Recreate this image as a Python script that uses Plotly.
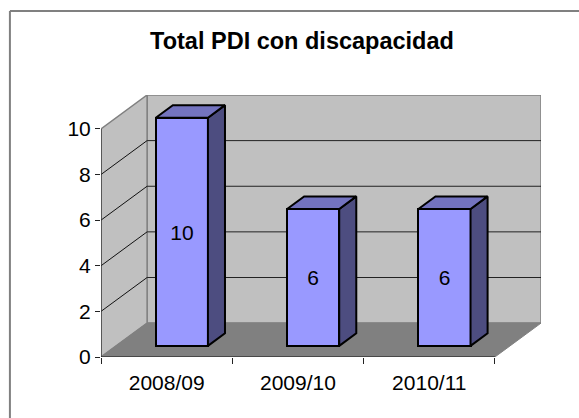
import plotly.graph_objects as go

categories = ["2008/09", "2009/10", "2010/11"]
values = [10, 6, 6]
y_ticks = [0, 2, 4, 6, 8, 10]
title_text = "Total PDI con discapacidad"

W, H = 579, 418
ML, MR, MT, MB = 101, 38.4, 95, 61
DEPTH_X, DEPTH_Y = 0.351, 1.485   # oblique offset of full chart depth, in data units
BAR_FRONT, BAR_DEPTH, BAR_WIDTH = 0.33, 0.37, 0.397
n = len(categories)
ymax = max(y_ticks)
FONT = "Liberation Sans, Arial, sans-serif"
PW, PH = W - ML - MR, H - MT - MB


def proj(x, y, d):
    return x + d * DEPTH_X, y + d * DEPTH_Y


def poly(pts, fill, line, width, layer="below"):
    path = "M " + " L ".join(f"{x},{y}" for x, y in pts) + " Z"
    return dict(type="path", path=path, xref="x", yref="y", fillcolor=fill,
                line=dict(color=line, width=width), layer=layer)


def seg(p, q, color, width):
    return dict(type="line", xref="x", yref="y", x0=p[0], y0=p[1], x1=q[0], y1=q[1],
                line=dict(color=color, width=width), layer="below")


def frame(x0, y0, x1, y1):
    return dict(type="line", xref="paper", yref="paper",
                x0=(x0 - ML) / PW, x1=(x1 - ML) / PW,
                y0=(H - MB - y0) / PH, y1=(H - MB - y1) / PH,
                line=dict(color="#808080", width=2), layer="below")


shapes = [
    frame(10, 11, W + 2, 11),
    frame(10, 11, 10, H + 2),
    # back wall
    poly([proj(0, 0, 1), proj(n, 0, 1), proj(n, ymax, 1), proj(0, ymax, 1)], "#C0C0C0", "#808080", 1.5),
    # side wall
    poly([proj(0, 0, 0), proj(0, 0, 1), proj(0, ymax, 1), proj(0, ymax, 0)], "#C0C0C0", "#808080", 1.5),
    # floor
    poly([proj(0, 0, 0), proj(n, 0, 0), proj(n, 0, 1), proj(0, 0, 1)], "#808080", "#808080", 1),
]
for t in y_ticks[1:-1]:
    shapes.append(seg(proj(0, t, 0), proj(0, t, 1), "#111111", 1))
    shapes.append(seg(proj(0, t, 1), proj(n, t, 1), "#222222", 1))
shapes.append(seg(proj(0, 0, 0), proj(0, ymax, 0), "#333333", 1.2))
shapes.append(seg(proj(0, 0, 0), proj(n, 0, 0), "#111111", 1.2))

fig = go.Figure()

d0, d1 = BAR_FRONT, BAR_FRONT + BAR_DEPTH
centers = [proj(i + 0.5, 0, d0)[0] for i in range(n)]
base = proj(0, 0, d0)[1]
fig.add_trace(go.Bar(
    x=centers, y=values, base=[base] * n, width=[BAR_WIDTH] * n,
    marker=dict(color="#9999FF", line=dict(color="black", width=2)),
    text=[str(v) for v in values], textposition="inside", insidetextanchor="middle",
    textangle=0, textfont=dict(family=FONT, size=21, color="black"),
    constraintext="none", showlegend=False, hoverinfo="skip",
))

for i, v in enumerate(values):
    xl = i + 0.5 - BAR_WIDTH / 2
    xr = i + 0.5 + BAR_WIDTH / 2
    side = [proj(xr, 0, d0), proj(xr, 0, d1), proj(xr, v, d1), proj(xr, v, d0), proj(xr, 0, d0)]
    top = [proj(xl, v, d0), proj(xr, v, d0), proj(xr, v, d1), proj(xl, v, d1), proj(xl, v, d0)]
    for pts, col in ((side, "#4D4D80"), (top, "#7373BF")):
        fig.add_trace(go.Scatter(
            x=[p[0] for p in pts], y=[p[1] for p in pts], mode="lines", fill="toself",
            fillcolor=col, line=dict(color="black", width=2), showlegend=False, hoverinfo="skip",
        ))

fig.update_layout(
    width=W, height=H, autosize=False,
    margin=dict(l=ML, r=MR, t=MT, b=MB),
    paper_bgcolor="white", plot_bgcolor="rgba(0,0,0,0)",
    shapes=shapes, showlegend=False, bargap=0,
    font=dict(family=FONT, color="black", size=21),
    title=dict(text=f"<b>{title_text}</b>", x=302 / W, xanchor="center", y=1 - 41 / H, yanchor="middle",
               font=dict(family=FONT, size=23.5, color="black")),
    xaxis=dict(
        range=[0, n + DEPTH_X], showgrid=False, zeroline=False, showline=False,
        tickmode="array", tickvals=[i + 0.5 for i in range(n)], ticktext=categories,
        ticks="", ticklabelstandoff=11,
        tickfont=dict(family=FONT, size=21, color="black"),
        minor=dict(tickmode="array", tickvals=list(range(n + 1)), ticks="outside",
                   ticklen=6, tickwidth=1, tickcolor="#222222", showgrid=False),
    ),
    yaxis=dict(
        range=[0, ymax + DEPTH_Y], showgrid=False, zeroline=False, showline=False,
        tickmode="array", tickvals=y_ticks, ticktext=[str(t) for t in y_ticks],
        ticks="outside", ticklen=5, tickwidth=1, tickcolor="#222222",
        tickfont=dict(family=FONT, size=21, color="black"),
    ),
)
fig.write_html("out.html", config={"displayModeBar": False},
               post_script="document.body.style.margin='0';")
